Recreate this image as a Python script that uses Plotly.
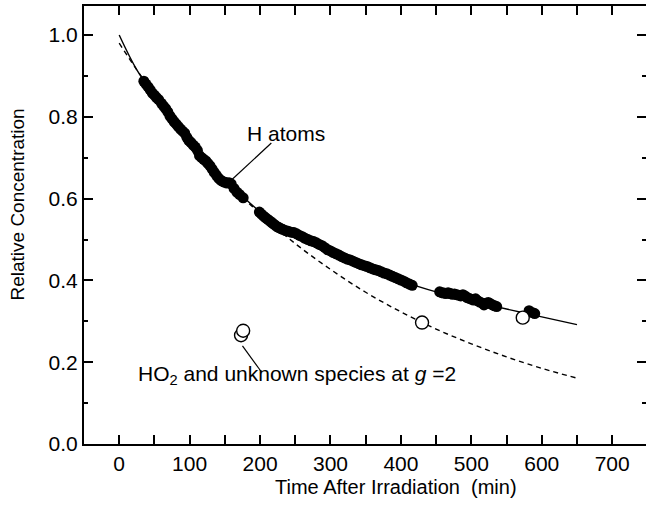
import plotly.graph_objects as go

# ---- data ----
h_x = [35, 38, 41, 44, 47, 50, 53, 56, 60, 63, 66, 69, 72, 75, 78, 81, 84, 87, 90, 93, 96, 99,
       102, 105, 108, 111, 114, 117, 120, 123, 126, 129, 132, 135, 138, 141, 144, 147, 150, 153,
       156, 159, 163, 167, 171, 176,
       199, 202, 205, 208, 211, 214, 217, 220, 223, 226, 229, 232, 236, 240, 244, 248, 252, 256,
       260, 264, 268, 272, 276, 280, 284, 288, 292, 296, 300, 304, 308, 312, 316, 320, 324, 328,
       332, 336, 340, 344, 348, 352, 356, 360, 364, 368, 372, 376, 380, 384, 388, 392, 396, 400,
       404, 408, 412, 416,
       455, 458, 461, 464, 467, 470, 473, 476, 479, 482, 485, 488, 491, 494, 497, 500, 503, 506,
       509, 512, 515, 518, 521, 524, 527, 530, 533, 536,
       582, 587, 590]
h_y = [.887, .880, .873, .866, .858, .853, .847, .842, .833, .826, .820, .812, .802, .795, .788,
       .782, .776, .770, .765, .760, .750, .742, .737, .731, .726, .718, .705, .700, .696, .692,
       .686, .680, .672, .664, .657, .650, .645, .642, .640, .638, .639, .636, .625, .616, .610,
       .602,
       .567, .562, .557, .553, .549, .545, .541, .537, .533, .530, .527, .525, .522, .520, .518,
       .517, .514, .510, .507, .503, .500, .497, .495, .492, .488, .485, .480, .475, .472, .468,
       .465, .462, .458, .455, .452, .450, .447, .444, .441, .438, .436, .434, .431, .428, .426,
       .424, .421, .418, .416, .413, .410, .407, .404, .401, .398, .394, .391, .388,
       .372, .370, .369, .368, .370, .368, .366, .367, .365, .364, .362, .365, .362, .358, .356,
       .354, .352, .355, .350, .347, .345, .340, .344, .346, .343, .340, .338, .336,
       .326, .321, .319]

ho2_x = [173, 176, 430, 573]
ho2_y = [0.266, 0.277, 0.297, 0.309]

fit_x = [0, 25, 50, 100, 150, 200, 250, 300, 350, 400, 450, 500, 550, 600, 650]
fit_solid = [1.000, 0.915, 0.855, 0.742, 0.648, 0.568, 0.510, 0.466, 0.430, 0.399, 0.372,
             0.350, 0.330, 0.311, 0.292]
fit_dashed = [0.980, 0.915, 0.853, 0.742, 0.647, 0.563, 0.490, 0.427, 0.371, 0.323, 0.281,
              0.245, 0.213, 0.185, 0.161]

x_ticks = [0, 100, 200, 300, 400, 500, 600, 700]
y_ticks = [0.0, 0.2, 0.4, 0.6, 0.8, 1.0]
y_tick_labels = ["0.0", "0.2", "0.4", "0.6", "0.8", "1.0"]

FONT = "Liberation Sans, Arial, sans-serif"

fig = go.Figure()
fig.add_trace(go.Scatter(x=fit_x, y=fit_dashed, mode="lines", line=dict(color="black", width=1.4, dash="5px,4px", shape="spline"), showlegend=False))
fig.add_trace(go.Scatter(x=fit_x, y=fit_solid, mode="lines", line=dict(color="black", width=1.4, shape="spline"), showlegend=False))
fig.add_trace(go.Scatter(x=h_x, y=h_y, mode="markers", marker=dict(symbol="circle", size=11, color="black", line=dict(width=0)), showlegend=False))
fig.add_trace(go.Scatter(x=ho2_x, y=ho2_y, mode="markers", marker=dict(symbol="circle", size=13, color="white", line=dict(color="black", width=1.4)), showlegend=False))
# invisible trace to create right-hand tick axis
fig.add_trace(go.Scatter(x=[None], y=[None], yaxis="y2", showlegend=False))

axis_common = dict(ticks="inside", ticklen=9, tickwidth=1.6, tickcolor="black",
                   showgrid=False, zeroline=False,
                   tickfont=dict(family=FONT, size=21, color="black"))

fig.update_layout(
    width=646, height=510,
    margin=dict(l=84, r=0, t=6, b=66),
    paper_bgcolor="white", plot_bgcolor="white",
    xaxis=dict(range=[-50, 748], tickvals=x_ticks, showline=True, linewidth=2, linecolor="black",
               mirror="allticks", minor=dict(ticks="inside", ticklen=4, dtick=50, tick0=0, tickcolor="black", tickwidth=1.6),
               **axis_common),
    yaxis=dict(range=[0, 1.071], tickvals=y_ticks, ticktext=y_tick_labels, showline=True, linewidth=2,
               linecolor="black", ticklabelstandoff=0,
               minor=dict(ticks="inside", ticklen=4, dtick=0.1, tick0=0, tickcolor="black", tickwidth=1.6),
               **axis_common),
    yaxis2=dict(overlaying="y", side="right", range=[0, 1.071], tickvals=y_ticks, showticklabels=False,
                showline=False, ticks="inside", ticklen=9, tickwidth=1.6, tickcolor="black",
                showgrid=False, zeroline=False,
                minor=dict(ticks="inside", ticklen=4, dtick=0.1, tick0=0, tickcolor="black", tickwidth=1.6)),
    shapes=[
        dict(type="line", xref="x", yref="y", x0=159, y0=0.645, x1=216, y1=0.736,
             line=dict(color="black", width=1.2)),
        dict(type="line", xref="x", yref="y", x0=175, y0=0.24, x1=202, y1=0.176,
             line=dict(color="black", width=1.2)),
    ],
    annotations=[
        dict(text="Relative Concentration", xref="paper", yref="paper", x=-0.118, y=0.546,
             textangle=-90, showarrow=False, font=dict(family=FONT, size=19, color="black"),
             xanchor="center", yanchor="middle"),
        dict(text="Time After Irradiation&nbsp;&nbsp;(min)", xref="paper", yref="paper", x=0.555, y=-0.098,
             showarrow=False, font=dict(family=FONT, size=20, color="black"),
             xanchor="center", yanchor="middle"),
        dict(text="H atoms", x=237, y=0.76, xref="x", yref="y", showarrow=False,
             font=dict(family=FONT, size=21, color="black"), xanchor="center", yanchor="middle"),
        dict(text="HO<sub>2</sub> and unknown species at <i>g</i> =2", x=253, y=0.168, xref="x", yref="y",
             showarrow=False, font=dict(family=FONT, size=21, color="black"), xanchor="center", yanchor="middle"),
    ],
)

fig.write_html("out.html")
